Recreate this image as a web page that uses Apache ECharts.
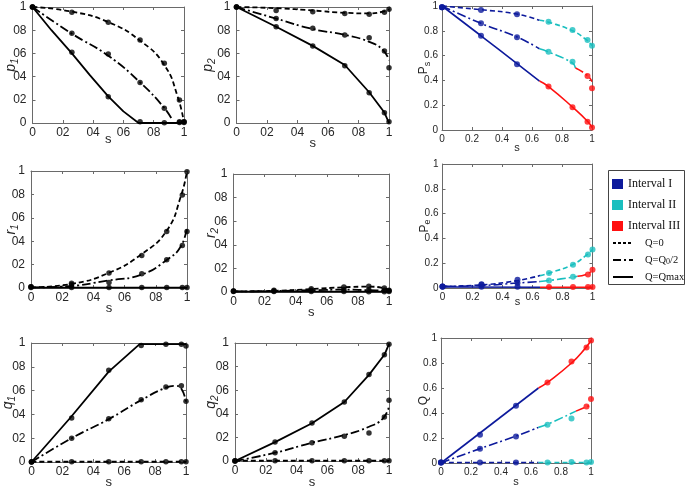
<!DOCTYPE html>
<html><head><meta charset="utf-8">
<script src="https://cdn.jsdelivr.net/npm/echarts@6/dist/echarts.min.js"></script>
<style>html,body{margin:0;padding:0;background:#fff}#c{width:685px;height:487px}</style>
</head><body><div id="c"></div>
<script>
// ---------- data ----------
const S = [0, 0.26, 0.5, 0.71, 0.87, 0.97, 1];          // simulated points (s)
const INT_Q0 = ['I','I','I','II','II','II','II'];        // interval of each point, Q=0
const INT_QH = ['I','I','I','II','II','III','III'];      // Q=Q0/2
const INT_QM = ['I','I','I','III','III','III','III'];    // Q=Qmax

// p1
const p1_mk_q0 = [1, 0.954, 0.868, 0.716, 0.515, 0.198, 0.01];
const p1_mk_qh = [1, 0.773, 0.595, 0.35, 0.127, 0.01, 0.005];
const p1_mk_qm = [1, 0.61, 0.227, 0.01, 0.003, 0.005, 0.01];
const p1_ln_q0 = [[0,1],[0.26,0.96],[0.5,0.87],[0.71,0.71],[0.87,0.5],[0.96,0.22],[1,0]];
const p1_ln_qh = [[0,1],[0.26,0.77],[0.5,0.58],[0.71,0.35],[0.87,0.13],[0.925,0.02]];
const p1_ln_qm = [[0,1],[0.125,0.8],[0.26,0.6],[0.38,0.41],[0.5,0.23],[0.6,0.1],[0.7,0],[1,0]];
// p2
const p2_mk_q0 = [1, 0.97, 0.96, 0.945, 0.937, 0.955, 0.98];
const p2_mk_qh = [1, 0.90, 0.816, 0.759, 0.735, 0.62, 0.477];
const p2_mk_qm = [1, 0.83, 0.664, 0.494, 0.261, 0.089, 0.01];
const p2_ln_q0 = [[0,1],[0.26,0.99],[0.5,0.97],[0.71,0.95],[0.87,0.945],[0.96,0.96],[1,0.98]];
const p2_ln_qh = [[0,1],[0.26,0.9],[0.5,0.81],[0.71,0.76],[0.87,0.7],[0.96,0.63],[1,0.54]];
const p2_ln_qm = [[0,1],[0.26,0.83],[0.5,0.665],[0.71,0.5],[0.87,0.265],[0.97,0.09],[1,0]];
// Ps
const ps_mk_q0 = [0.99, 0.968, 0.933, 0.873, 0.806, 0.726, 0.68];
const ps_mk_qh = [0.99, 0.86, 0.748, 0.632, 0.551, 0.435, 0.336];
const ps_mk_qm = [0.99, 0.76, 0.53, 0.35, 0.183, 0.067, 0.02];
const ps_ln_q0 = {I: [[0,1],[0.26,0.97],[0.5,0.935],[0.65,0.885]],
                  II: [[0.65,0.885],[0.71,0.87],[0.87,0.8],[0.96,0.73],[1,0.68]]};
const ps_ln_qh = {I: [[0,1],[0.26,0.86],[0.5,0.75],[0.65,0.655]],
                  II: [[0.65,0.655],[0.71,0.63],[0.87,0.54],[0.89,0.5]],
                  III: [[0.89,0.5],[0.97,0.44],[1,0.39]]};
const ps_ln_qm = {I: [[0,1],[0.26,0.76],[0.5,0.535],[0.65,0.395]],
                  III: [[0.65,0.395],[0.71,0.35],[0.87,0.185],[0.97,0.07],[1,0.02]]};
// r1
const r1_mk_q0 = [0.01, 0.04, 0.128, 0.278, 0.483, 0.795, 0.994];
const r1_mk_qh = [0.01, 0.03, 0.048, 0.122, 0.241, 0.364, 0.483];
const r1_mk_qm = [0.005, 0.005, 0.005, 0.005, 0.005, 0.005, 0.005];
const r1_ln_q0 = [[0,0.005],[0.26,0.035],[0.5,0.13],[0.71,0.29],[0.87,0.49],[0.96,0.78],[1,1]];
const r1_ln_qh = [[0,0.005],[0.2,0.012],[0.5,0.065],[0.71,0.115],[0.87,0.24],[0.96,0.355],[1,0.525]];
const r1_ln_qm = [[0,0.003],[1,0.003]];
// r2
const r2_mk_q0 = [0.008, 0.014, 0.028, 0.043, 0.048, 0.034, 0.014];
const r2_mk_qh = [0.008, 0.008, 0.015, 0.022, 0.02, 0.015, 0.01];
const r2_mk_qm = [0.005, 0.005, 0.005, 0.004, 0.003, 0.003, 0.004];
const r2_ln_q0 = [[0,0.005],[0.26,0.01],[0.5,0.025],[0.71,0.04],[0.87,0.045],[0.96,0.035],[1,0.015]];
const r2_ln_qh = [[0,0.005],[0.26,0.008],[0.5,0.015],[0.71,0.02],[0.87,0.015],[0.96,0.012],[1,0.01]];
const r2_ln_qm = [[0,0.003],[1,0.003]];
// Pe
const pe_mk_q0 = [0.013, 0.03, 0.067, 0.12, 0.188, 0.27, 0.31];
const pe_mk_qh = [0.013, 0.027, 0.04, 0.06, 0.09, 0.108, 0.148];
const pe_mk_qm = [0.01, 0.01, 0.01, 0.008, 0.008, 0.008, 0.008];
const pe_ln_q0 = {I: [[0,0.013],[0.26,0.025],[0.5,0.06],[0.65,0.1]],
                  II: [[0.65,0.1],[0.71,0.12],[0.87,0.19],[0.96,0.265],[1,0.31]]};
const pe_ln_qh = {I: [[0,0.013],[0.26,0.02],[0.5,0.04],[0.65,0.052]],
                  II: [[0.65,0.052],[0.71,0.06],[0.87,0.088],[0.9,0.095]],
                  III: [[0.9,0.095],[0.97,0.115],[1,0.15]]};
const pe_ln_qm = {I: [[0,0.008],[0.65,0.006]], III: [[0.65,0.006],[1,0.006]]};
// q1
const q1_mk_q0 = [0.003, 0.003, 0.003, 0.003, 0.003, 0.003, 0.003];
const q1_mk_qh = [0, 0.2, 0.364, 0.524, 0.63, 0.64, 0.51];
const q1_mk_qm = [0, 0.37, 0.77, 0.98, 0.99, 0.99, 0.975];
const q1_ln_q0 = [[0,0.002],[1,0.002]];
const q1_ln_qh = [[0,0],[0.26,0.2],[0.5,0.36],[0.71,0.52],[0.87,0.625],[0.93,0.64],[0.97,0.615],[1,0.5]];
const q1_ln_qm = [[0,0],[0.25,0.37],[0.5,0.76],[0.7,0.99],[1,0.99]];
// q2
const q2_mk_q0 = [0.003, 0.003, 0.003, 0.003, 0.003, 0.003, 0.003];
const q2_mk_qh = [0, 0.07, 0.155, 0.209, 0.237, 0.373, 0.514];
const q2_mk_qm = [0, 0.161, 0.322, 0.5, 0.734, 0.9, 0.99];
const q2_ln_q0 = [[0,0.002],[1,0.002]];
const q2_ln_qh = [[0,0],[0.26,0.07],[0.5,0.155],[0.71,0.22],[0.87,0.29],[0.96,0.36],[1,0.46]];
const q2_ln_qm = [[0,0],[0.26,0.16],[0.5,0.32],[0.71,0.5],[0.87,0.73],[0.97,0.9],[1,0.99]];
// Q
const Q_mk_q0 = [0.005, 0.005, 0.005, 0.005, 0.008, 0.005, 0.008];
const Q_mk_qh = [0.005, 0.115, 0.213, 0.307, 0.357, 0.453, 0.512];
const Q_mk_qm = [0.005, 0.227, 0.459, 0.645, 0.813, 0.925, 0.98];
const Q_ln_q0 = {I: [[0,0.004],[0.65,0.004]], II: [[0.65,0.004],[1,0.004]]};
const Q_ln_qh = {I: [[0,0],[0.26,0.115],[0.5,0.215],[0.65,0.285]],
                 II: [[0.65,0.285],[0.71,0.31],[0.9,0.415]],
                 III: [[0.9,0.415],[1,0.465]]};
const Q_ln_qm = {I: [[0,0],[0.65,0.6]], III: [[0.65,0.6],[0.71,0.645],[0.87,0.8],[0.96,0.915],[1,0.98]]};

const CASES = ['q0','qh','qm'];
const CASE_NAMES = {q0:'Q=0', qh:'Q=Q0/2', qm:'Q=Qmax'};
const INTERVAL_NAMES = {I:'Interval I', II:'Interval II', III:'Interval III'};
const TICK_STEP = 0.2;

// ---------- style / layout ----------
const FF = 'Liberation Sans, Arial, sans-serif';
const SERIF = 'Liberation Serif, Times New Roman, serif';
const TXT = '#262626', AX = '#6a6a6a';
const COL = {I:'#0d1a9c', II:'#1abfbf', III:'#ff1010'};
const DASH = {q0:[5,3], qh:[9,3,2,3], qm:'solid'};
const INTS = {q0:INT_Q0, qh:INT_QH, qm:INT_QM};

const panels = [
  {grid:{left:32.5,top:7,width:151.5,height:116}, col:1, ym:'p', ys:'1', xGap:10, yGap:12,
   mk:{q0:p1_mk_q0,qh:p1_mk_qh,qm:p1_mk_qm}, ln:{q0:p1_ln_q0,qh:p1_ln_qh,qm:p1_ln_qm}, poly:['qm']},
  {grid:{left:236.5,top:7,width:152.5,height:116}, col:2, ym:'p', ys:'2', xGap:14, yGap:19,
   mk:{q0:p2_mk_q0,qh:p2_mk_qh,qm:p2_mk_qm}, ln:{q0:p2_ln_q0,qh:p2_ln_qh,qm:p2_ln_qm}, poly:['qm']},
  {grid:{left:442,top:6,width:150,height:124}, col:3, ym:'P', ys:'s', xGap:12, yGap:10,
   mk:{q0:ps_mk_q0,qh:ps_mk_qh,qm:ps_mk_qm}, ln:{q0:ps_ln_q0,qh:ps_ln_qh,qm:ps_ln_qm}, poly:[]},
  {grid:{left:31,top:171,width:156,height:117}, col:1, ym:'r', ys:'1', xGap:14, yGap:10.5,
   mk:{q0:r1_mk_q0,qh:r1_mk_qh,qm:r1_mk_qm}, ln:{q0:r1_ln_q0,qh:r1_ln_qh,qm:r1_ln_qm}, poly:[]},
  {grid:{left:233.5,top:174,width:155.5,height:118}, col:2, ym:'r', ys:'2', xGap:14, yGap:13,
   mk:{q0:r2_mk_q0,qh:r2_mk_qh,qm:r2_mk_qm}, ln:{q0:r2_ln_q0,qh:r2_ln_qh,qm:r2_ln_qm}, poly:[]},
  {grid:{left:442.5,top:164,width:150,height:124}, col:3, ym:'P', ys:'e', xGap:8, yGap:10,
   mk:{q0:pe_mk_q0,qh:pe_mk_qh,qm:pe_mk_qm}, ln:{q0:pe_ln_q0,qh:pe_ln_qh,qm:pe_ln_qm}, poly:[]},
  {grid:{left:31.5,top:343,width:154.5,height:119}, col:1, ym:'q', ys:'1', xGap:14, yGap:14,
   mk:{q0:q1_mk_q0,qh:q1_mk_qh,qm:q1_mk_qm}, ln:{q0:q1_ln_q0,qh:q1_ln_qh,qm:q1_ln_qm}, poly:['qm']},
  {grid:{left:235,top:343,width:154,height:118}, col:2, ym:'q', ys:'2', xGap:15, yGap:14.5,
   mk:{q0:q2_mk_q0,qh:q2_mk_qh,qm:q2_mk_qm}, ln:{q0:q2_ln_q0,qh:q2_ln_qh,qm:q2_ln_qm}, poly:['qm']},
  {grid:{left:441,top:338,width:150,height:125}, col:3, ym:'Q', ys:'', xGap:13, yGap:9,
   mk:{q0:Q_mk_q0,qh:Q_mk_qh,qm:Q_mk_qm}, ln:{q0:Q_ln_q0,qh:Q_ln_qh,qm:Q_ln_qm}, poly:[]}
];

const grids = [], xAxes = [], yAxes = [], series = [];
const fmtNoDot = v => String(+v.toFixed(1)).replace('.', '');
const fmtDot = v => String(+v.toFixed(1));

panels.forEach((p, i) => {
  const c3 = p.col === 3;
  grids.push(Object.assign({outerBoundsMode:'none', containLabel:false}, p.grid));
  const lab = {fontFamily:FF, fontSize:c3?10:12, color:TXT, formatter:c3?fmtDot:fmtNoDot};
  const common = {gridIndex:i, type:'value', min:0, max:1, interval:TICK_STEP, splitLine:{show:false},
    nameMoveOverlap:false,
    axisLine:{show:true, onZero:false, lineStyle:{color:AX, width:1}},
    axisTick:{show:true, inside:true, length:3, lineStyle:{color:AX}}};
  xAxes.push(Object.assign({}, common, {position:'bottom', axisLabel:Object.assign({margin:4}, lab),
    name:'s', nameLocation:'middle', nameGap:p.xGap,
    nameTextStyle:{fontFamily:FF, fontSize:c3?11:13, color:TXT}}));
  xAxes.push(Object.assign({}, common, {position:'top', axisLabel:{show:false}}));
  const rich = c3 ? {
      m:{fontFamily:FF, fontSize:12, color:TXT, lineHeight:16},
      b:{fontFamily:FF, fontSize:9, color:TXT, lineHeight:9, verticalAlign:'bottom'}}
    : {
      m:{fontFamily:FF, fontStyle:'italic', fontSize:14, color:TXT, lineHeight:18},
      b:{fontFamily:FF, fontStyle:'italic', fontSize:10, color:TXT, lineHeight:10, verticalAlign:'bottom'}};
  yAxes.push(Object.assign({}, common, {position:'left', axisLabel:Object.assign({margin:c3?4:6}, lab),
    name:'{m|' + p.ym + '}' + (p.ys ? '{b|' + p.ys + '}' : ''), nameLocation:'middle', nameGap:p.yGap,
    nameRotate:90, nameTextStyle:{rich:rich}}));
  yAxes.push(Object.assign({}, common, {position:'right', axisLabel:{show:false}}));

  const ax = {xAxisIndex:2*i, yAxisIndex:2*i};
  CASES.forEach(k => {
    const ln = p.ln[k];
    const smooth = p.poly.indexOf(k) < 0;
    if (Array.isArray(ln)) {
      series.push(Object.assign({type:'line', name:CASE_NAMES[k], data:ln, symbol:'none', smooth:smooth,
        clip:false, silent:true, color:'#000', lineStyle:{color:'#000', width:1.8, type:DASH[k]}, z:2}, ax));
    } else {
      Object.keys(ln).forEach(iv => {
        series.push(Object.assign({type:'line', name:INTERVAL_NAMES[iv], data:ln[iv], symbol:'none',
          smooth:smooth, clip:false, silent:true, color:COL[iv],
          lineStyle:{color:COL[iv], width:1.6, type:DASH[k]}, z:2}, ax));
      });
    }
    const mk = p.mk[k];
    if (c3) {
      ['I','II','III'].forEach(iv => {
        const d = [];
        S.forEach((s, j) => { if (INTS[k][j] === iv) d.push([s, mk[j]]); });
        if (d.length) series.push(Object.assign({type:'scatter', name:'sim', data:d, symbolSize:6,
          clip:false, silent:true, itemStyle:{color:COL[iv]}, z:3}, ax));
      });
    } else {
      series.push(Object.assign({type:'scatter', name:'sim', data:S.map((s, j) => [s, mk[j]]),
        symbolSize:5.5, clip:false, silent:true, itemStyle:{color:'#000'}, z:3}, ax));
    }
  });
});

const option = {
  animation:false,
  backgroundColor:'#fff',
  grid:grids, xAxis:xAxes, yAxis:yAxes, series:series,
  legend:[
    {data:[{name:'Interval I', icon:'rect'}, {name:'Interval II', icon:'rect'}, {name:'Interval III', icon:'rect'}],
     left:612, top:177, padding:0, orient:'vertical', itemWidth:11, itemHeight:10, itemGap:7, selectedMode:false, z:5,
     textStyle:{fontFamily:SERIF, fontSize:12, color:'#111', lineHeight:14}},
    {data:[{name:'Q=0', itemStyle:{opacity:0}, lineStyle:{type:[3,2]}},
           {name:'Q=Q0/2', itemStyle:{opacity:0}, lineStyle:{type:[8,3,2,3]}},
           {name:'Q=Qmax', itemStyle:{opacity:0}}],
     left:612, top:237, padding:0, orient:'vertical', itemWidth:20, itemHeight:10, itemGap:5, selectedMode:false, z:5,
     formatter: n => n === 'Q=Q0/2' ? '{t|Q=Q}{b|0}{t|/2}' : n,
     textStyle:{fontFamily:SERIF, fontSize:10.5, color:'#111', lineHeight:12, padding:[0,0,0,7],
       rich:{t:{fontFamily:SERIF, fontSize:10.5, color:'#111', lineHeight:12},
             b:{fontFamily:SERIF, fontSize:8, color:'#111', lineHeight:8, verticalAlign:'bottom'}}}}
  ],
  graphic:[{type:'rect', left:608, top:170, z:1,
    shape:{x:0, y:0, width:76, height:114}, style:{fill:'#fff', stroke:'#444', lineWidth:1}}]
};

const chart = echarts.init(document.getElementById('c'), null, {renderer:'canvas'});
chart.setOption(option);
</script>
</body></html>
